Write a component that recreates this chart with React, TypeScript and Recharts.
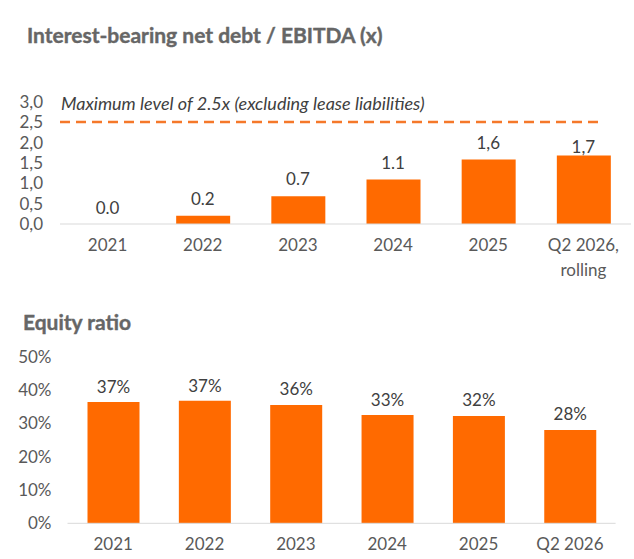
import React from 'react';
import { ComposedChart, BarChart, Bar, Line, XAxis, YAxis, ReferenceLine, LabelList } from 'recharts';

const debtCategories = ['2021', '2022', '2023', '2024', '2025', 'Q2 2026,\nrolling'];
const debtValues = [0, 0.2, 0.68, 1.09, 1.58, 1.68];
const debtLabels = ['0.0', '0.2', '0.7', '1.1', '1,6', '1,7'];
const debtTicks = [0, 0.5, 1, 1.5, 2, 2.5, 3];
const debtMax = 2.5;

const equityCategories = ['2021', '2022', '2023', '2024', '2025', 'Q2 2026'];
const equityValues = [36.4, 36.8, 35.5, 32.5, 32.2, 28];
const equityLabels = ['37%', '37%', '36%', '33%', '32%', '28%'];
const equityTicks = [0, 10, 20, 30, 40, 50];

const ORANGE = '#FF6A00';
const DASH = '#F5782A';
const FONT = 'Lato, sans-serif';
const TICK_COLOR = '#595959';
const LABEL_COLOR = '#404040';
const TITLE_COLOR = '#666666';

// small per-bar lift tweaks for the value labels
const debtLift = [16, 17, 17, 17, 17, 9];
const equityLift = [15, 15, 16, 15, 16, 16];

const debtData = debtCategories.map((name, i) => ({ name, value: debtValues[i], label: debtLabels[i] }));
const equityData = equityCategories.map((name, i) => ({ name, value: equityValues[i], label: equityLabels[i] }));

const MultiLineTick = (props: any) => {
  const { x, y, payload } = props;
  const lines = String(payload.value).split('\n');
  return (
    <text x={x} y={y} textAnchor="middle" fill={TICK_COLOR} fontSize={17} fontFamily={FONT}>
      {lines.map((line, i) => (
        <tspan key={i} x={x} dy={i === 0 ? '0.71em' : 25}>
          {line}
        </tspan>
      ))}
    </text>
  );
};

// label drawn from a point (x = band centre, y = value top)
const makePointLabel = (lifts: number[]) => (props: any) => {
  const { x, y, index, value } = props;
  return (
    <text x={x} y={y - lifts[index] + 6} textAnchor="middle" fill={LABEL_COLOR} fontSize={17} fontFamily={FONT}>
      {value}
    </text>
  );
};

const makeBarLabel = (lifts: number[]) => (props: any) => {
  const { x, y, width, index, value } = props;
  return (
    <text x={x + width / 2} y={y - lifts[index] + 6} textAnchor="middle" fill={LABEL_COLOR} fontSize={17} fontFamily={FONT}>
      {value}
    </text>
  );
};

const DashedShortLine = (props: any) => {
  const { x1, y1, x2, y2 } = props;
  return <line x1={x1} y1={y1} x2={x2 - 29} y2={y2} stroke={DASH} strokeWidth={2.5} strokeDasharray="10 6" />;
};

const MaxLabel = (props: any) => {
  const { viewBox } = props;
  return (
    <text x={viewBox.x + 1} y={viewBox.y - 12} fill={LABEL_COLOR} fontSize={18} fontStyle="italic" fontFamily={FONT}>
      Maximum level of 2.5x (excluding lease liabilities)
    </text>
  );
};

const App: React.FC = () => {
  return (
    <div style={{ position: 'absolute', left: 0, top: 0, width: 634, height: 559, background: '#fff' }}>
      <svg width={634} height={559} style={{ position: 'absolute', left: 0, top: 0 }}>
        <text x={27} y={43} fill={TITLE_COLOR} stroke={TITLE_COLOR} strokeWidth={0.4} fontSize={21} fontWeight={700} fontFamily={FONT}>
          Interest-bearing net debt / EBITDA (x)
        </text>
        <text x={23} y={330} fill={TITLE_COLOR} stroke={TITLE_COLOR} strokeWidth={0.4} fontSize={21} fontWeight={700} fontFamily={FONT}>
          Equity ratio
        </text>
      </svg>

      <div style={{ position: 'absolute', left: 0, top: 0 }}>
        <ComposedChart width={634} height={290} data={debtData} margin={{ top: 101.7, right: 3, bottom: 16, left: 0 }}>
          <XAxis
            dataKey="name"
            axisLine={{ stroke: '#d9d9d9' }}
            tickLine={false}
            tickSize={0}
            tickMargin={15}
            height={50}
            interval={0}
            tick={<MultiLineTick />}
          />
          <YAxis
            domain={[0, 3]}
            ticks={debtTicks}
            interval={0}
            width={60}
            axisLine={false}
            tickLine={false}
            tickSize={0}
            tickMargin={17}
            tick={{ fill: TICK_COLOR, fontSize: 17, fontFamily: FONT }}
            tickFormatter={(v: number) => v.toFixed(1).replace('.', ',')}
          />
          <ReferenceLine y={debtMax} shape={<DashedShortLine />} label={<MaxLabel />} />
          <Bar dataKey="value" fill={ORANGE} barSize={54} isAnimationActive={false} />
          <Line dataKey="value" stroke="none" dot={false} activeDot={false} isAnimationActive={false}>
            <LabelList dataKey="label" content={makePointLabel(debtLift)} />
          </Line>
        </ComposedChart>
      </div>

      <div style={{ position: 'absolute', left: 0, top: 290 }}>
        <BarChart width={634} height={269} data={equityData} margin={{ top: 66.7, right: 18.4, bottom: 5.7, left: 0 }}>
          <XAxis
            dataKey="name"
            axisLine={{ stroke: '#d9d9d9' }}
            tickLine={false}
            tickSize={0}
            tickMargin={15}
            height={30}
            interval={0}
            tick={<MultiLineTick />}
          />
          <YAxis
            domain={[0, 50]}
            ticks={equityTicks}
            interval={0}
            width={67.5}
            axisLine={false}
            tickLine={false}
            tickSize={0}
            tickMargin={16}
            tick={{ fill: TICK_COLOR, fontSize: 17, fontFamily: FONT }}
            tickFormatter={(v: number) => `${v}%`}
          />
          <Bar dataKey="value" fill={ORANGE} barSize={52} isAnimationActive={false}>
            <LabelList dataKey="label" content={makeBarLabel(equityLift)} />
          </Bar>
        </BarChart>
      </div>
    </div>
  );
};

export default App;
